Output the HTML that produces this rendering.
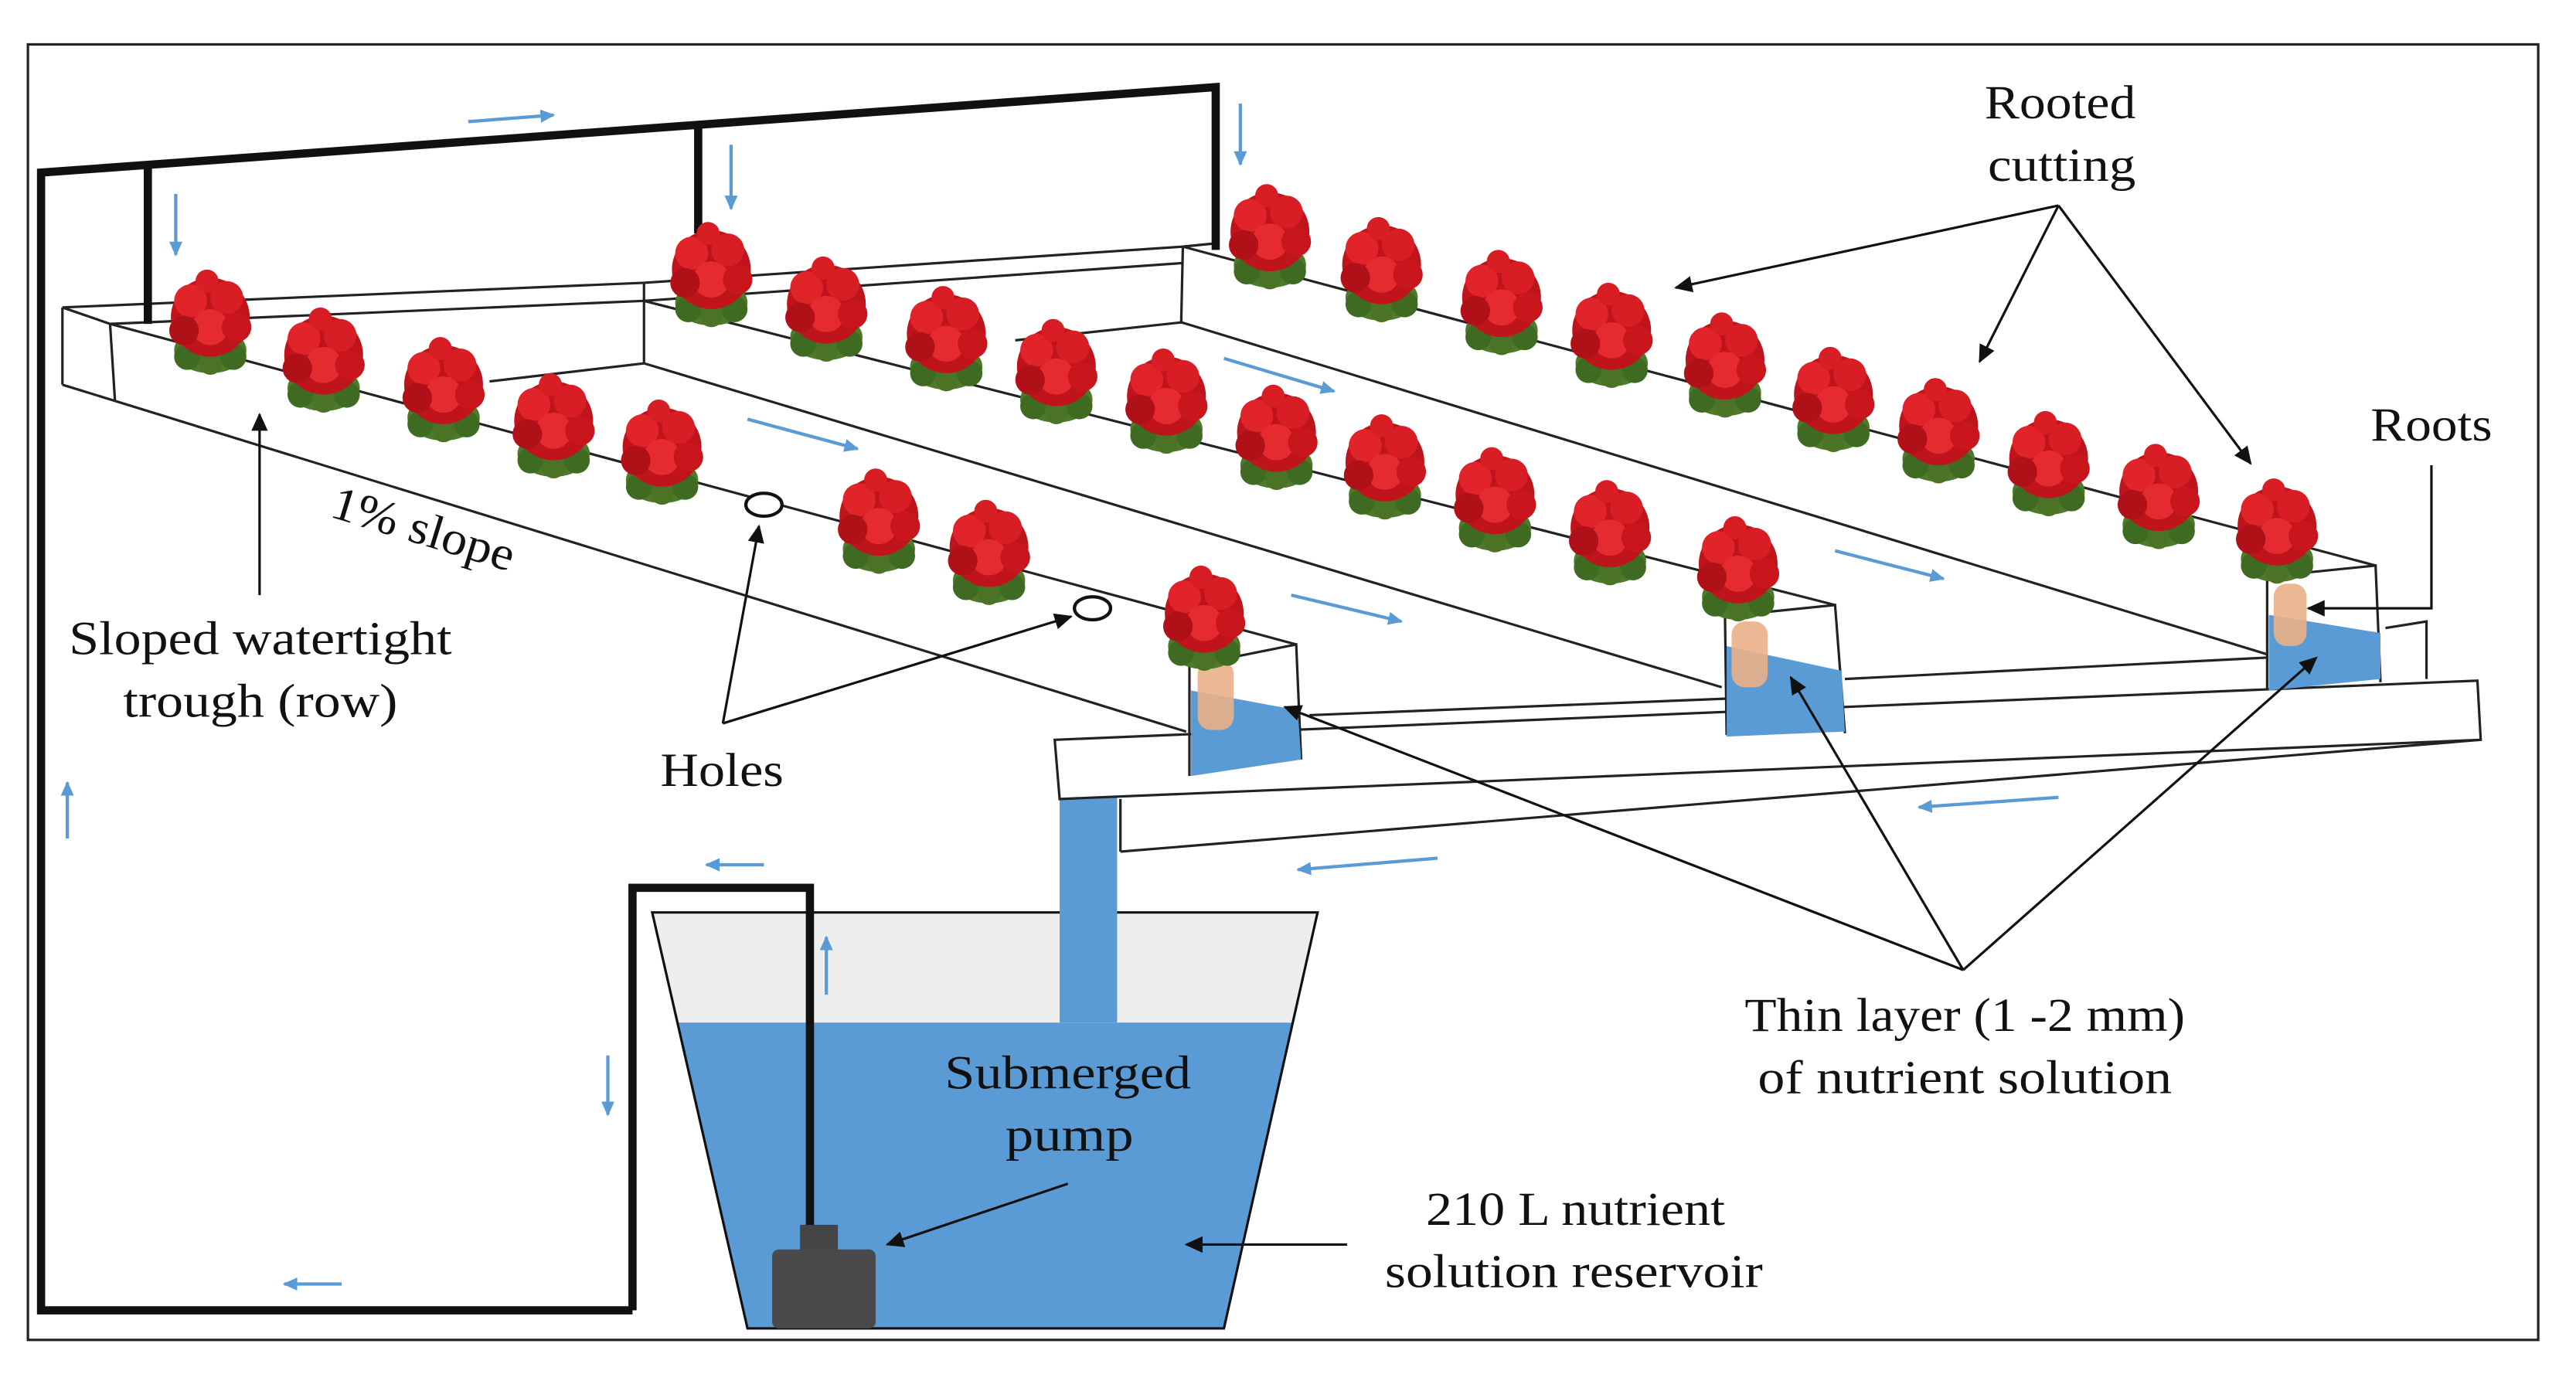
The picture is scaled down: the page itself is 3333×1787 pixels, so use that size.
<!DOCTYPE html>
<html><head><meta charset="utf-8"><style>
html,body{margin:0;padding:0;background:#fff;}
svg{display:block;}
text{font-family:"Liberation Serif",serif;font-size:29px;fill:#111;}
</style></head><body>
<svg width="3333" height="1787" viewBox="0 0 1568 840" preserveAspectRatio="none" xmlns="http://www.w3.org/2000/svg">
<defs>
<marker id="ab" markerWidth="10" markerHeight="10" refX="8" refY="5" orient="auto" markerUnits="userSpaceOnUse"><path d="M0,1 L9,5 L0,9 z" fill="#5b9bd5"/></marker>
<marker id="ak" markerWidth="12" markerHeight="12" refX="10" refY="6" orient="auto" markerUnits="userSpaceOnUse"><path d="M0,1 L11,6 L0,11 z" fill="#111"/></marker>
<g id="fl">
<ellipse cx="0" cy="18" rx="22" ry="14" fill="#4f7a2a"/>
<circle cx="-14" cy="22" r="8" fill="#3f6a22"/><circle cx="14" cy="22" r="8" fill="#3f6a22"/><circle cx="0" cy="26" r="7" fill="#4a7326"/>
<circle cx="0" cy="-2" r="24" fill="#c0141c"/>
<circle cx="-12" cy="-12" r="10" fill="#e0242a"/><circle cx="10" cy="-14" r="10" fill="#d81e24"/><circle cx="0" cy="4" r="11" fill="#e52a30"/><circle cx="-16" cy="6" r="9" fill="#b01018"/><circle cx="16" cy="4" r="9" fill="#c8161c"/><circle cx="-2" cy="-24" r="7" fill="#d81e24"/>
</g>
</defs>
<rect x="17" y="27" width="1528" height="788" fill="#fff" stroke="#222" stroke-width="1.5"/>

<polygon points="397,555 802,555 745,808 455,808" fill="#eeeeee"/>
<polygon points="412,622 787,622 745,808 455,808" fill="#5b9bd5"/>
<polygon points="397,555 802,555 745,808 455,808" fill="none" stroke="#111" stroke-width="1.5"/>
<rect x="645" y="483" width="35" height="139" fill="#5b9bd5"/>

<g fill="none" stroke="#222" stroke-width="1.5">
<polygon points="642,450 1508,414 1510,450 645,486" fill="#fff"/>
<line x1="682" y1="486" x2="682" y2="518"/>
<line x1="682" y1="518" x2="1510" y2="450"/>
<line x1="797" y1="435" x2="1050" y2="425"/>
<line x1="1123" y1="413" x2="1380" y2="400"/>
</g>

<g fill="none" stroke="#222" stroke-width="1.5">
<line x1="38" y1="187" x2="392" y2="172"/>
<line x1="67" y1="197" x2="392" y2="183"/>
<line x1="38" y1="187" x2="67" y2="197"/>
<line x1="38" y1="187" x2="38" y2="234"/>
<line x1="67" y1="197" x2="70" y2="244"/>
<line x1="67" y1="197" x2="789" y2="392"/>
<line x1="38" y1="234" x2="722" y2="445"/>
<line x1="298" y1="232" x2="392" y2="221"/>
<polyline points="724,405 789,392 792,462"/>
<line x1="724" y1="405" x2="724" y2="472"/>
<line x1="392" y1="172" x2="720" y2="150"/>
<line x1="392" y1="183" x2="720" y2="160"/>
<line x1="392" y1="172" x2="392" y2="221"/>
<line x1="392" y1="183" x2="1117" y2="368"/>
<line x1="392" y1="221" x2="1048" y2="418"/>
<line x1="618" y1="207" x2="720" y2="196"/>
<polyline points="1048,375 1117,368 1123,446"/>
<line x1="1050" y1="375" x2="1051" y2="447"/>
<line x1="720" y1="150" x2="740" y2="148"/>
<line x1="720" y1="150" x2="719" y2="196"/>
<line x1="720" y1="150" x2="1446" y2="344"/>
<line x1="719" y1="196" x2="1380" y2="398"/>
<polyline points="1377,351 1446,344 1449,415"/>
<line x1="1380" y1="351" x2="1380" y2="420"/>
<polyline points="1452,382 1477,378 1477,413"/>
</g>
<polygon points="725,420 790,432 792,462 725,472" fill="#5b9bd5"/>
<polygon points="1051,393 1121,408 1123,445 1051,448" fill="#5b9bd5"/>
<polygon points="1381,374 1449,385 1449,413 1381,420" fill="#5b9bd5"/>
<g fill="#eab088" opacity="0.9">
<rect x="729" y="402" width="22" height="42" rx="8"/><rect x="1054" y="378" width="22" height="40" rx="8"/><rect x="1384" y="355" width="20" height="38" rx="8"/>
</g>
<ellipse cx="465" cy="307" rx="11" ry="7" fill="#fff" stroke="#111" stroke-width="2"/>
<ellipse cx="665" cy="370" rx="11" ry="7" fill="#fff" stroke="#111" stroke-width="2"/>

<g fill="none" stroke="#111" stroke-width="5">
<polyline points="385,797 25,797 25,105 740,53 740,152"/>
<line x1="90" y1="102" x2="90" y2="197"/>
<line x1="425" y1="78" x2="425" y2="142"/>
<polyline points="385,797 385,540 493,540 493,760"/>
</g>
<rect x="487" y="745" width="23" height="18" fill="#444"/>
<rect x="470" y="760" width="63" height="48" rx="4" fill="#4a4a4a"/>

<g>
<use href="#fl" x="128" y="195"/><use href="#fl" x="197" y="218"/><use href="#fl" x="270" y="236"/><use href="#fl" x="337" y="258"/><use href="#fl" x="403" y="274"/><use href="#fl" x="535" y="316"/><use href="#fl" x="602" y="335"/><use href="#fl" x="733" y="375"/>
<use href="#fl" x="433" y="166"/><use href="#fl" x="503" y="187"/><use href="#fl" x="576" y="205"/><use href="#fl" x="643" y="225"/><use href="#fl" x="710" y="243"/><use href="#fl" x="777" y="265"/><use href="#fl" x="843" y="283"/><use href="#fl" x="910" y="303"/><use href="#fl" x="980" y="323"/><use href="#fl" x="1058" y="345"/>
<use href="#fl" x="773" y="143"/><use href="#fl" x="841" y="163"/><use href="#fl" x="914" y="183"/><use href="#fl" x="981" y="203"/><use href="#fl" x="1050" y="221"/><use href="#fl" x="1116" y="242"/><use href="#fl" x="1180" y="261"/><use href="#fl" x="1247" y="281"/><use href="#fl" x="1314" y="301"/><use href="#fl" x="1386" y="322"/>
</g>

<g stroke="#5b9bd5" stroke-width="2" marker-end="url(#ab)">
<line x1="285" y1="74" x2="337" y2="70"/>
<line x1="107" y1="118" x2="107" y2="155"/>
<line x1="445" y1="88" x2="445" y2="127"/>
<line x1="755" y1="63" x2="755" y2="100"/>
<line x1="455" y1="255" x2="522" y2="273"/>
<line x1="745" y1="218" x2="812" y2="238"/>
<line x1="786" y1="362" x2="853" y2="378"/>
<line x1="1117" y1="335" x2="1183" y2="352"/>
<line x1="1253" y1="485" x2="1168" y2="491"/>
<line x1="875" y1="522" x2="790" y2="529"/>
<line x1="465" y1="526" x2="430" y2="526"/>
<line x1="41" y1="510" x2="41" y2="476"/>
<line x1="370" y1="642" x2="370" y2="678"/>
<line x1="503" y1="605" x2="503" y2="570"/>
<line x1="208" y1="781" x2="173" y2="781"/>
</g>

<g stroke="#111" stroke-width="1.5" fill="none">
<line x1="1253" y1="125" x2="1020" y2="175" marker-end="url(#ak)"/>
<line x1="1253" y1="125" x2="1205" y2="220" marker-end="url(#ak)"/>
<line x1="1253" y1="125" x2="1370" y2="282" marker-end="url(#ak)"/>
<polyline points="1480,283 1480,370 1405,370" marker-end="url(#ak)"/>
<line x1="158" y1="362" x2="158" y2="252" marker-end="url(#ak)"/>
<line x1="440" y1="440" x2="462" y2="320" marker-end="url(#ak)"/>
<line x1="440" y1="440" x2="652" y2="375" marker-end="url(#ak)"/>
<line x1="1195" y1="590" x2="782" y2="430" marker-end="url(#ak)"/>
<line x1="1195" y1="590" x2="1090" y2="412" marker-end="url(#ak)"/>
<line x1="1195" y1="590" x2="1410" y2="400" marker-end="url(#ak)"/>
<line x1="650" y1="720" x2="540" y2="757" marker-end="url(#ak)"/>
<line x1="820" y1="757" x2="722" y2="757" marker-end="url(#ak)"/>
</g>

<g>
<text x="1208" y="72" textLength="92" lengthAdjust="spacingAndGlyphs">Rooted</text>
<text x="1210" y="110" textLength="90" lengthAdjust="spacingAndGlyphs">cutting</text>
<text x="1443" y="268" textLength="74" lengthAdjust="spacingAndGlyphs">Roots</text>
<text x="200" y="314" transform="rotate(17 200 314)" textLength="115" lengthAdjust="spacingAndGlyphs">1% slope</text>
<text x="42" y="398" textLength="233" lengthAdjust="spacingAndGlyphs">Sloped watertight</text>
<text x="75" y="436" textLength="167" lengthAdjust="spacingAndGlyphs">trough (row)</text>
<text x="402" y="478" textLength="75" lengthAdjust="spacingAndGlyphs">Holes</text>
<text x="1062" y="627" textLength="268" lengthAdjust="spacingAndGlyphs">Thin layer (1 -2 mm)</text>
<text x="1070" y="665" textLength="252" lengthAdjust="spacingAndGlyphs">of nutrient solution</text>
<text x="575" y="662" textLength="150" lengthAdjust="spacingAndGlyphs">Submerged</text>
<text x="612" y="700" textLength="78" lengthAdjust="spacingAndGlyphs">pump</text>
<text x="868" y="745" textLength="182" lengthAdjust="spacingAndGlyphs">210 L nutrient</text>
<text x="843" y="783" textLength="230" lengthAdjust="spacingAndGlyphs">solution reservoir</text>
</g>
</svg>
</body></html>
